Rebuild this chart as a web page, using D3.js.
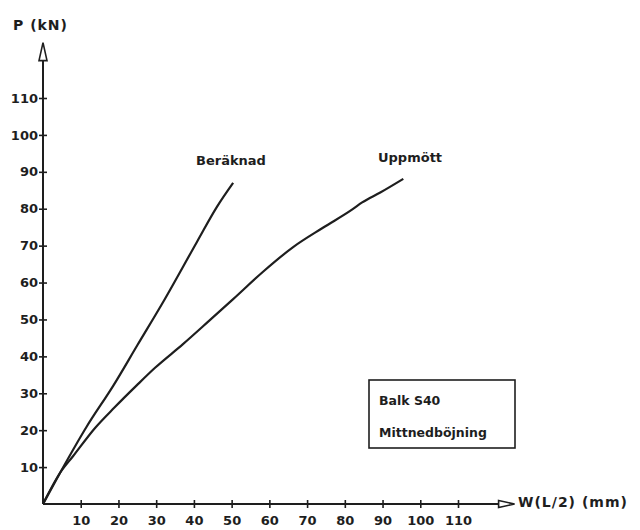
<!DOCTYPE html>
<html>
<head>
<meta charset="utf-8">
<script src="https://cdn.jsdelivr.net/npm/d3@7"></script>
<style>
  body { margin: 0; background: #fff; }
  svg text { font-family: "DejaVu Sans", sans-serif; font-weight: bold; fill: #1e1e1e; }
</style>
</head>
<body>
<div id="chart"></div>
<script>
// tick values on both axes
const xTicks = [10, 20, 30, 40, 50, 60, 70, 80, 90, 100, 110];
const yTicks = [10, 20, 30, 40, 50, 60, 70, 80, 90, 100, 110];

// Beräknad (calculated) deflection curve: [w mm, P kN]
const beraknad = [
    [0, 0], [4.5, 8.4], [11.6, 21], [18.6, 32], [25, 43], [32, 55],
    [40.8, 71], [46.1, 80.5], [50.4, 87]
];

// Uppmött (measured) deflection curve: [w mm, P kN]
const uppmott = [
    [0, 0], [4.5, 8.4], [8, 13], [13.8, 20.6], [19, 26.2], [24.9, 32.2],
    [29.7, 36.9], [37.1, 43.3], [44, 49.6], [50.4, 55.5], [58.4, 63],
    [66.3, 69.6], [74.3, 74.9], [82, 79.8], [84.6, 81.7], [89.4, 84.4],
    [95.5, 88.1]
];

const width = 640;
const height = 530;
const ink = "#1e1e1e";

const svg = d3.select("#chart")
    .append("svg")
    .attr("width", width)
    .attr("height", height);

const x = d3.scaleLinear().domain([0, 110]).range([43, 458]);
const y = d3.scaleLinear().domain([0, 110]).range([504, 98]);

// Axes with ticks crossing the line
const xAxis = svg.append("g")
    .attr("transform", `translate(0, ${y(0)})`)
    .call(d3.axisBottom(x).tickValues(xTicks).tickSize(0).tickPadding(12));
xAxis.select(".domain").remove();
xAxis.selectAll(".tick line")
    .attr("y1", -4).attr("y2", 4)
    .attr("stroke", ink).attr("stroke-width", 1.6);
xAxis.selectAll(".tick text")
    .attr("font-size", "13px")
    .attr("font-family", "DejaVu Sans")
    .attr("fill", ink);

const yAxis = svg.append("g")
    .attr("transform", `translate(${x(0)}, 0)`)
    .call(d3.axisLeft(y).tickValues(yTicks).tickSize(0).tickPadding(5));
yAxis.select(".domain").remove();
yAxis.selectAll(".tick line")
    .attr("x1", -4).attr("x2", 4)
    .attr("stroke", ink).attr("stroke-width", 1.6);
yAxis.selectAll(".tick text")
    .attr("font-size", "13px")
    .attr("font-family", "DejaVu Sans")
    .attr("fill", ink);

// Axis lines with open arrowheads
const xEnd = x(125), yEnd = y(125);
svg.append("line")
    .attr("x1", x(0)).attr("y1", y(0))
    .attr("x2", xEnd - 16).attr("y2", y(0))
    .attr("stroke", ink).attr("stroke-width", 2);
svg.append("line")
    .attr("x1", x(0)).attr("y1", y(0))
    .attr("x2", x(0)).attr("y2", yEnd + 18)
    .attr("stroke", ink).attr("stroke-width", 2);

svg.append("path")
    .attr("d", `M${xEnd - 16},${y(0) - 3.5} L${xEnd},${y(0)} L${xEnd - 16},${y(0) + 3.5} Z`)
    .attr("fill", "#fff").attr("stroke", ink).attr("stroke-width", 1.6);
svg.append("path")
    .attr("d", `M${x(0) - 4},${yEnd + 18} L${x(0)},${yEnd} L${x(0) + 4},${yEnd + 18} Z`)
    .attr("fill", "#fff").attr("stroke", ink).attr("stroke-width", 1.6);

// Axis titles
svg.append("text")
    .attr("x", 13).attr("y", 30)
    .attr("font-size", "14px")
    .attr("letter-spacing", "1px")
    .text("P (kN)");
svg.append("text")
    .attr("x", 518).attr("y", 507)
    .attr("font-size", "14px")
    .attr("letter-spacing", "1px")
    .text("W(L/2) (mm)");

// Curves
const line = d3.line()
    .x(d => x(d[0]))
    .y(d => y(d[1]))
    .curve(d3.curveMonotoneX);

[beraknad, uppmott].forEach(data => {
    svg.append("path")
        .datum(data)
        .attr("d", line)
        .attr("fill", "none")
        .attr("stroke", ink)
        .attr("stroke-width", 2.2)
        .attr("stroke-linejoin", "round");
});

// Curve labels
svg.append("text")
    .attr("x", 196).attr("y", 165)
    .attr("font-size", "13px")
    .text("Beräknad");
svg.append("text")
    .attr("x", 378).attr("y", 162)
    .attr("font-size", "13px")
    .text("Uppmött");

// Info box
svg.append("rect")
    .attr("x", 369).attr("y", 380)
    .attr("width", 146).attr("height", 68)
    .attr("fill", "none")
    .attr("stroke", ink)
    .attr("stroke-width", 1.6);
svg.append("text")
    .attr("x", 379).attr("y", 405)
    .attr("font-size", "12.5px")
    .text("Balk S40");
svg.append("text")
    .attr("x", 379).attr("y", 437)
    .attr("font-size", "12.5px")
    .text("Mittnedböjning");
</script>
</body>
</html>
